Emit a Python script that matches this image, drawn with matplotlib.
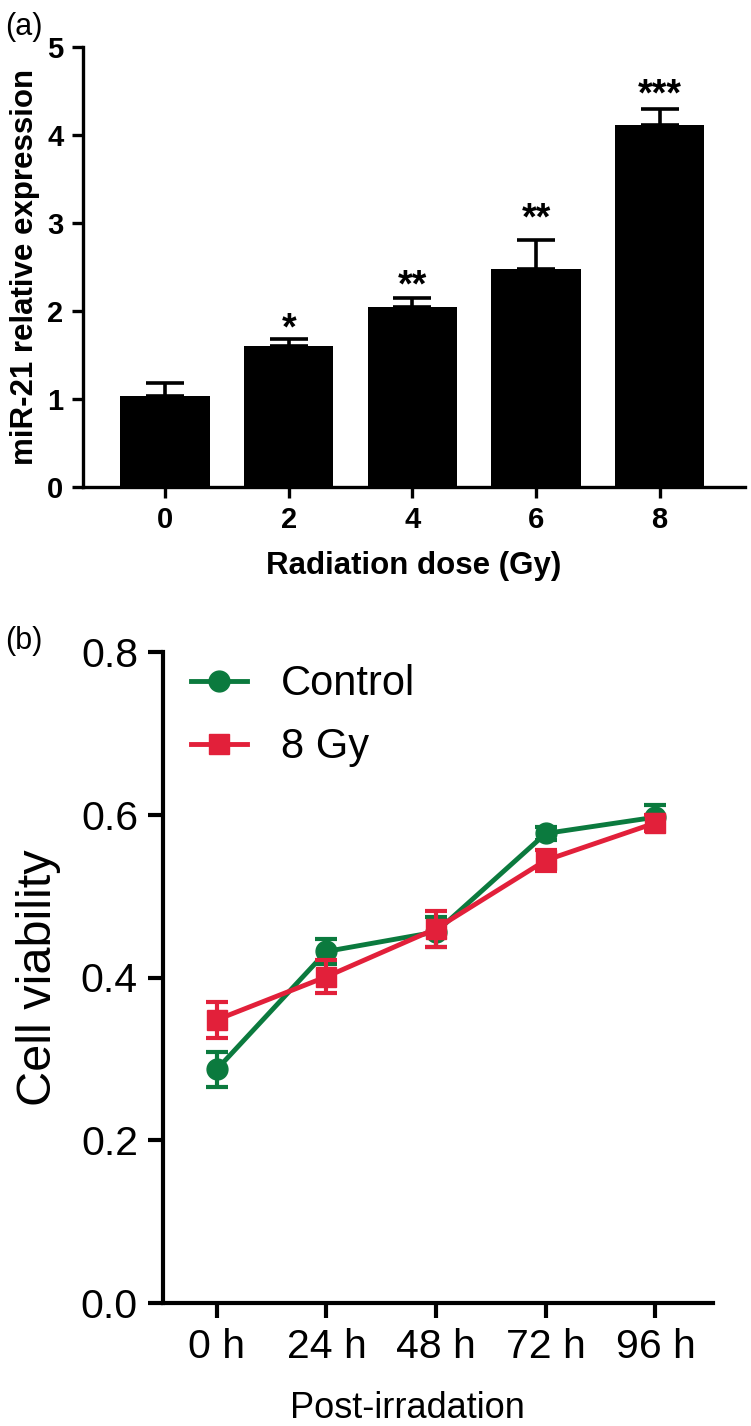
import numpy as np
import matplotlib
matplotlib.use("Agg")
import matplotlib.pyplot as plt

plt.rcParams['font.family'] = ['Liberation Sans', 'DejaVu Sans']

# panel (a): miR-21 expression vs dose
doses = ['0', '2', '4', '6', '8']
expr = [1.03, 1.60, 2.04, 2.48, 4.11]
expr_err = [0.15, 0.08, 0.11, 0.33, 0.19]
stars = ['', '*', '**', '**', '***']
star_y = [0.0, 1.68, 2.16, 2.93, 4.33]

# panel (b): cell viability over time
times = ['0 h', '24 h', '48 h', '72 h', '96 h']
control = [0.287, 0.432, 0.456, 0.577, 0.597]
control_err = [0.022, 0.015, 0.018, 0.008, 0.015]
gy8 = [0.348, 0.401, 0.460, 0.544, 0.590]
gy8_err = [0.022, 0.020, 0.022, 0.013, 0.010]

green = '#0b7a3e'
red = '#e2203a'

W, H = 751, 1426
fig = plt.figure(figsize=(W / 100, H / 100), dpi=100)

# ---------- (a) ----------
ax1 = fig.add_axes([83 / W, 1 - 487 / H, (745 - 83) / W, (487 - 47) / H])
x = np.arange(len(doses))
ax1.bar(x, expr, width=0.72, color='black', zorder=2)
ax1.errorbar(x, expr, yerr=[np.zeros(len(expr)), expr_err], fmt='none',
             ecolor='black', elinewidth=2.6, capsize=14, capthick=2.6, zorder=1)
for xi, s, sy in zip(x, stars, star_y):
    if s:
        ax1.text(xi, sy, s, ha='center', va='baseline', fontsize=27,
                 fontweight='bold')
ax1.set_xlim(-0.663, 4.69)
ax1.set_ylim(0, 5)
ax1.set_xticks(x)
ax1.set_xticklabels(doses)
ax1.set_yticks([0, 1, 2, 3, 4, 5])
for sp in ['top', 'right']:
    ax1.spines[sp].set_visible(False)
for sp in ['left', 'bottom']:
    ax1.spines[sp].set_linewidth(2.4)
ax1.tick_params(width=2.4, length=8, labelsize=21, pad=6)
for lab in ax1.get_xticklabels() + ax1.get_yticklabels():
    lab.set_fontweight('bold')
ax1.set_xlabel('Radiation dose (Gy)', fontsize=22.5, fontweight='bold', labelpad=12)
ax1.set_ylabel('miR-21 relative expression', fontsize=22.5, fontweight='bold', labelpad=5)

fig.text(5 / W, 1 - 12 / H, '(a)', fontsize=22, ha='left', va='top')

# ---------- (b) ----------
ax2 = fig.add_axes([163 / W, 1 - 1303 / H, (713 - 163) / W, (1303 - 652) / H])
t = np.arange(len(times))
c1 = ax2.errorbar(t, control, yerr=control_err, color=green, marker='o',
                  markersize=15, linewidth=3.5, elinewidth=3, capsize=8,
                  capthick=3, zorder=3, label='Control')
c2 = ax2.errorbar(t, gy8, yerr=gy8_err, color=red, marker='s',
                  markersize=15, linewidth=3.5, elinewidth=3, capsize=8,
                  capthick=3, zorder=4, label='8 Gy')
ax2.set_xlim(-0.49, 4.525)
ax2.set_ylim(0, 0.8)
ax2.set_xticks(t)
ax2.set_xticklabels(times)
ax2.set_yticks([0.0, 0.2, 0.4, 0.6, 0.8])
ax2.set_yticklabels(['0.0', '0.2', '0.4', '0.6', '0.8'])
for sp in ['top', 'right']:
    ax2.spines[sp].set_visible(False)
for sp in ['left', 'bottom']:
    ax2.spines[sp].set_linewidth(3)
ax2.tick_params(width=3, length=11, labelsize=29.5, pad=7)
ax2.set_xlabel('Post-irradation', fontsize=26)
ax2.xaxis.set_label_coords(0.444, -0.135)
ax2.set_ylabel('Cell viability', fontsize=35, labelpad=14)
ax2.legend(handles=[c1.lines[0], c2.lines[0]], labels=['Control', '8 Gy'],
           loc='upper left', bbox_to_anchor=(0.051, 0.981), frameon=False,
           borderpad=0, borderaxespad=0, fontsize=30, handlelength=1.35,
           handletextpad=0.8, labelspacing=0.55)

fig.text(5 / W, 1 - 626 / H, '(b)', fontsize=22, ha='left', va='top')

fig.savefig('out.png', dpi=100)
